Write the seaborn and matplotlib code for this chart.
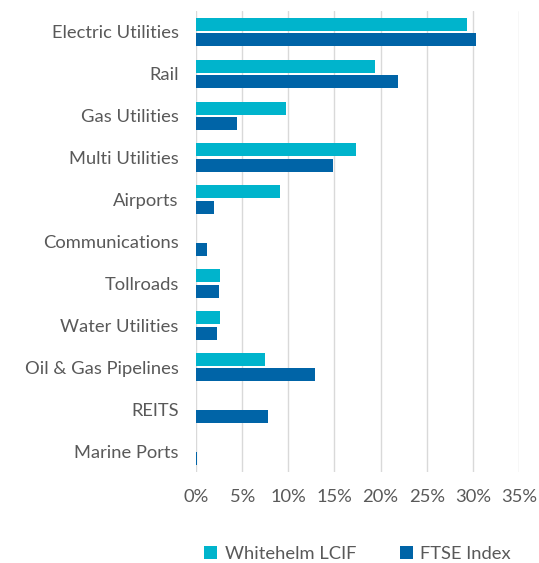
import matplotlib
matplotlib.use("Agg")
import matplotlib.pyplot as plt
import seaborn as sns
import pandas as pd
from matplotlib.ticker import FuncFormatter, MultipleLocator

categories = ["Electric Utilities", "Rail", "Gas Utilities", "Multi Utilities", "Airports",
              "Communications", "Tollroads", "Water Utilities", "Oil & Gas Pipelines",
              "REITS", "Marine Ports"]
whitehelm = [29.4, 19.4, 9.75, 17.35, 9.1, 0.0, 2.6, 2.55, 7.5, 0.0, 0.0]
ftse = [30.3, 21.9, 4.45, 14.8, 1.95, 1.2, 2.5, 2.25, 12.85, 7.75, 0.15]
series = ["Whitehelm LCIF", "FTSE Index"]
colors = ["#00B4CC", "#0064A7"]

df = pd.DataFrame({
    "Sector": categories * 2,
    "Share": whitehelm + ftse,
    "Series": [series[0]] * len(categories) + [series[1]] * len(categories),
})

sns.set_style("white")
plt.rcParams['font.family'] = ['Lato', 'DejaVu Sans']

fig = plt.figure(figsize=(5.39, 5.63), dpi=100)
ax = fig.add_axes([196 / 539, 1 - 472 / 563, (519 - 196) / 539, (472 - 11) / 563])

sns.barplot(data=df, y="Sector", x="Share", hue="Series", order=categories,
            hue_order=series, palette=colors, width=0.74, gap=0.16, saturation=1,
            orient="h", ax=ax, legend=True, linewidth=0)

ax.set_xlim(0, 35)
ax.set_ylim(len(categories) - 0.5, -0.5)
ax.xaxis.set_major_locator(MultipleLocator(5))
ax.xaxis.set_major_formatter(FuncFormatter(lambda v, p: f"{v:.0f}%"))
ax.grid(axis="x", color="#D9D9D9", linewidth=1.0)
ax.set_axisbelow(True)
for s in ax.spines.values():
    s.set_visible(False)
ax.set_xlabel("")
ax.set_ylabel("")
ax.tick_params(axis="both", length=0, colors="#595959", labelsize=13.2)
ax.tick_params(axis="x", pad=12)
ax.tick_params(axis="y", pad=12.5)

leg = ax.legend(loc="upper center", bbox_to_anchor=(0.5, -0.125), ncol=2, frameon=False,
                fontsize=13.2, handlelength=0.7, handleheight=0.7, handletextpad=0.4,
                columnspacing=2.4)
for t in leg.get_texts():
    t.set_color("#595959")

fig.savefig("out.png", dpi=100)
